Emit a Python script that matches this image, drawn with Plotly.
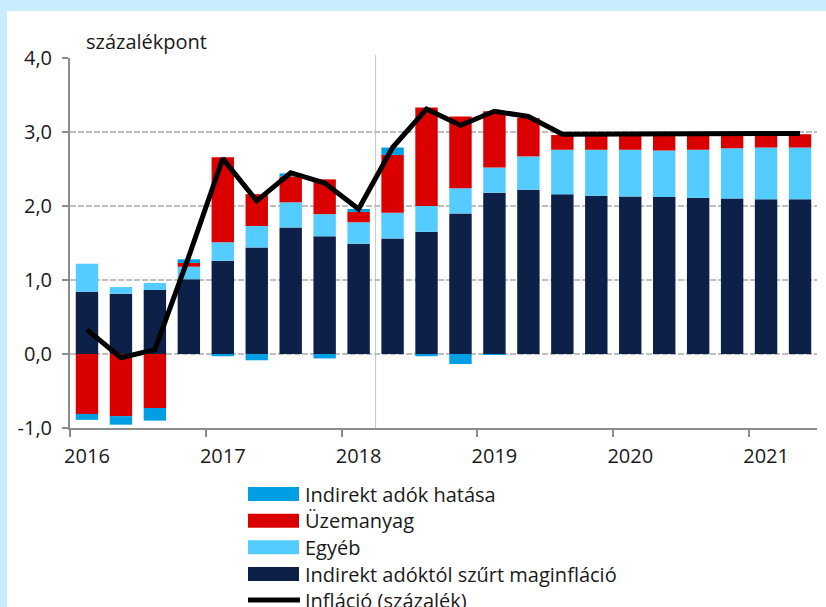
import plotly.graph_objects as go

quarters = ["2016Q1", "2016Q2", "2016Q3", "2016Q4",
            "2017Q1", "2017Q2", "2017Q3", "2017Q4",
            "2018Q1", "2018Q2", "2018Q3", "2018Q4",
            "2019Q1", "2019Q2", "2019Q3", "2019Q4",
            "2020Q1", "2020Q2", "2020Q3", "2020Q4",
            "2021Q1", "2021Q2"]

core = [0.84, 0.815, 0.865, 1.01, 1.26, 1.44, 1.71, 1.59, 1.49, 1.56, 1.65,
        1.90, 2.18, 2.22, 2.16, 2.14, 2.13, 2.12, 2.11, 2.10, 2.09, 2.09]
egyeb = [0.38, 0.09, 0.095, 0.17, 0.25, 0.29, 0.34, 0.30, 0.29, 0.35, 0.35,
         0.34, 0.34, 0.45, 0.60, 0.62, 0.63, 0.63, 0.65, 0.68, 0.70, 0.70]
uzemanyag = [-0.81, -0.84, -0.73, 0.05, 1.15, 0.43, 0.35, 0.47, 0.14, 0.78, 1.33,
             0.97, 0.76, 0.52, 0.20, 0.20, 0.20, 0.21, 0.21, 0.19, 0.18, 0.18]
indirekt = [-0.08, -0.115, -0.17, 0.05, -0.03, -0.085, 0.04, -0.06, 0.04, 0.10, -0.03,
            -0.135, -0.01, 0, 0, 0, 0, 0, 0, 0, 0, 0]
inflacio = [0.33, -0.05, 0.06, 1.32, 2.64, 2.07, 2.45, 2.31, 1.96, 2.79, 3.31,
            3.09, 3.28, 3.21, 2.97, 2.97, 2.97, 2.975, 2.98, 2.985, 2.985, 2.98]

year_labels = ["2016", "2017", "2018", "2019", "2020", "2021"]
y_ticks = [-1.0, 0.0, 1.0, 2.0, 3.0, 4.0]
y_tick_labels = ["-1,0", "0,0", "1,0", "2,0", "3,0", "4,0"]

names = ["Indirekt adók hatása", "Üzemanyag", "Egyéb",
         "Indirekt adóktól szűrt maginfláció", "Infláció (százalék)"]
colors = ["#009FE3", "#DA0000", "#55CCFF", "#0D2148", "#000000"]

FONT = "Open Sans"
FS = 20
W, H = 826, 607
L, R, T, B = 70, 9, 58, 179
pw, ph = W - L - R, H - T - B


def px_x(p):
    return (p - L) / pw


def px_y(p):
    return (H - B - p) / ph


x_idx = list(range(len(quarters)))

fig = go.Figure()
for vals, name, col in [(core, names[3], colors[3]), (egyeb, names[2], colors[2]),
                        (uzemanyag, names[1], colors[1]), (indirekt, names[0], colors[0])]:
    fig.add_trace(go.Bar(x=x_idx, y=vals, name=name, marker_color=col,
                         marker_line_width=0, showlegend=False,
                         hovertext=quarters))

fig.add_trace(go.Scatter(x=x_idx, y=inflacio, mode="lines", name=names[4],
                         line=dict(color="black", width=5), showlegend=False,
                         hovertext=quarters))

year_pos = [i for i, q in enumerate(quarters) if q.endswith("Q1")]
boundaries = [i - 0.5 for i in year_pos]

shapes = [
    dict(type="rect", xref="paper", yref="paper", x0=px_x(7), x1=px_x(W + 5), y0=px_y(H + 5), y1=px_y(11),
         fillcolor="white", line_width=0, layer="below"),
    dict(type="line", xref="x", yref="paper", x0=8.5, x1=8.5, y0=0, y1=px_y(55),
         line=dict(color="#C8C8C8", width=1), layer="below"),
]

annotations = [
    dict(text="százalékpont", xref="paper", yref="paper", x=px_x(84), y=px_y(41),
         xanchor="left", yanchor="middle", showarrow=False,
         font=dict(family=FONT, size=FS, color="#1a1a1a")),
]

# manual legend
row_y = [494, 520.7, 547.3, 574, 600]
for i, (nm, col) in enumerate(zip(names, colors)):
    yy = row_y[i]
    if i < 4:
        shapes.append(dict(type="rect", xref="paper", yref="paper",
                           x0=px_x(248), x1=px_x(299), y0=px_y(yy + 7), y1=px_y(yy - 7),
                           fillcolor=col, line_width=0))
    else:
        shapes.append(dict(type="line", xref="paper", yref="paper",
                           x0=px_x(248), x1=px_x(300), y0=px_y(yy), y1=px_y(yy),
                           line=dict(color=col, width=5)))
    annotations.append(dict(text=nm, xref="paper", yref="paper", x=px_x(303), y=px_y(yy),
                            xanchor="left", yanchor="middle", showarrow=False,
                            font=dict(family=FONT, size=FS, color="#1a1a1a")))

fig.update_layout(
    width=W, height=H,
    margin=dict(l=L, r=R, t=T, b=B),
    paper_bgcolor="#C6ECFD",
    plot_bgcolor="white",
    barmode="relative",
    bargap=0.34,
    separators=", ",
    font=dict(family=FONT, size=FS, color="#1a1a1a"),
    shapes=shapes,
    annotations=annotations,
    xaxis=dict(range=[-0.5, len(quarters) - 0.5], tickmode="array",
               tickvals=year_pos, ticktext=year_labels, ticks="",
               ticklabelstandoff=9,
               showgrid=False, zeroline=False,
               showline=True, linecolor="#8C8C8C", linewidth=2,
               minor=dict(tickmode="array", tickvals=boundaries, ticks="outside",
                          ticklen=7, tickwidth=2, tickcolor="#8C8C8C", showgrid=False),
               tickfont=dict(family=FONT, size=FS)),
    yaxis=dict(range=[-1, 4], tickmode="array", tickvals=y_ticks, ticktext=y_tick_labels,
               ticks="outside", ticklen=6, tickwidth=2, tickcolor="#8C8C8C",
               ticklabelstandoff=6,
               showline=True, linecolor="#8C8C8C", linewidth=2,
               showgrid=True, gridcolor="#BFBFBF", gridwidth=1.5, griddash="6px,2px",
               zeroline=False, tickfont=dict(family=FONT, size=FS)),
)

fig.write_html("out.html", config={"displayModeBar": False},
               post_script="document.body.style.margin='0';document.body.style.overflow='hidden';")
